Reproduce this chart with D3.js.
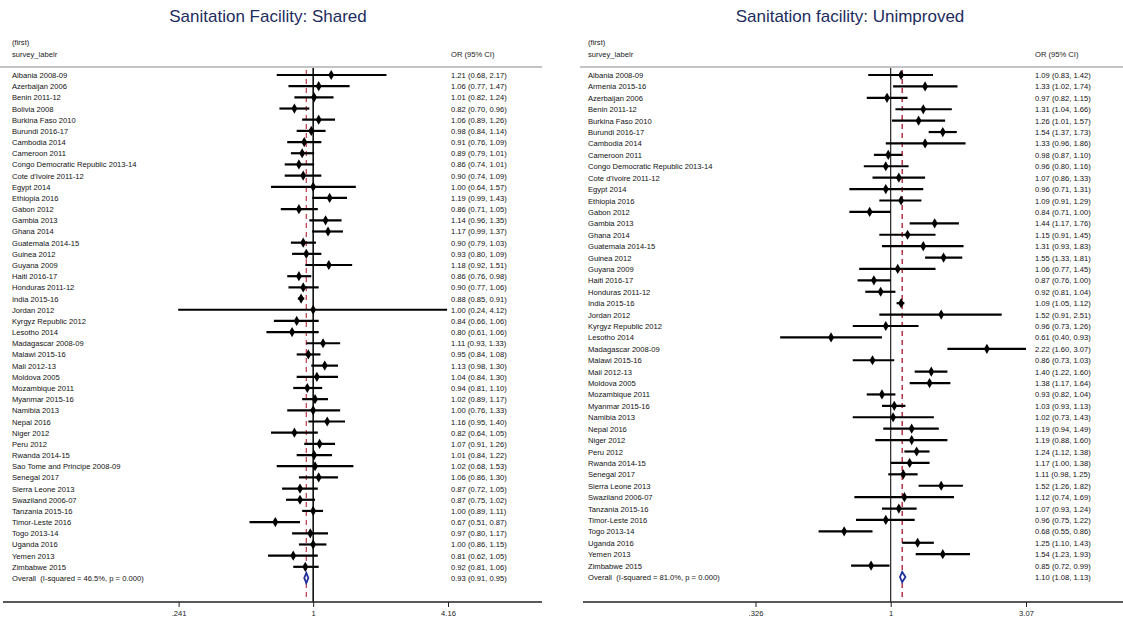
<!DOCTYPE html>
<html>
<head>
<meta charset="utf-8">
<script src="https://cdn.jsdelivr.net/npm/d3@7"></script>
<style>
  body { margin: 0; background: #fff; }
  svg { display: block; font-family: "Liberation Sans", Arial, sans-serif; }
</style>
</head>
<body>
<div id="chart"></div>
<script>
// left panel: shared sanitation facility
let sharedLabels = ["Albania 2008-09","Azerbaijan 2006","Benin 2011-12","Bolivia 2008","Burkina Faso 2010","Burundi 2016-17","Cambodia 2014","Cameroon 2011","Congo Democratic Republic 2013-14","Cote d'Ivoire 2011-12","Egypt 2014","Ethiopia 2016","Gabon 2012","Gambia 2013","Ghana 2014","Guatemala 2014-15","Guinea 2012","Guyana 2009","Haiti 2016-17","Honduras 2011-12","India 2015-16","Jordan 2012","Kyrgyz Republic 2012","Lesotho 2014","Madagascar 2008-09","Malawi 2015-16","Mali 2012-13","Moldova 2005","Mozambique 2011","Myanmar 2015-16","Namibia 2013","Nepal 2016","Niger 2012","Peru 2012","Rwanda 2014-15","Sao Tome and Principe 2008-09","Senegal 2017","Sierra Leone 2013","Swaziland 2006-07","Tanzania 2015-16","Timor-Leste 2016","Togo 2013-14","Uganda 2016","Yemen 2013","Zimbabwe 2015"]
let sharedOR    = [1.21,1.06,1.01,0.82,1.06,0.98,0.91,0.89,0.86,0.90,1.00,1.19,0.86,1.14,1.17,0.90,0.93,1.18,0.86,0.90,0.88,1.00,0.84,0.80,1.11,0.95,1.13,1.04,0.94,1.02,1.00,1.16,0.82,1.07,1.01,1.02,1.06,0.87,0.87,1.00,0.67,0.97,1.00,0.81,0.92]
let sharedLower = [0.68,0.77,0.82,0.70,0.89,0.84,0.76,0.79,0.74,0.74,0.64,0.99,0.71,0.96,0.99,0.79,0.80,0.92,0.76,0.77,0.85,0.24,0.66,0.61,0.93,0.84,0.98,0.84,0.81,0.89,0.76,0.95,0.64,0.91,0.84,0.68,0.86,0.72,0.75,0.89,0.51,0.80,0.86,0.62,0.81]
let sharedUpper = [2.17,1.47,1.24,0.96,1.26,1.14,1.09,1.01,1.01,1.09,1.57,1.43,1.05,1.35,1.37,1.03,1.09,1.51,0.98,1.06,0.91,4.12,1.06,1.06,1.33,1.08,1.30,1.30,1.10,1.17,1.33,1.40,1.05,1.26,1.22,1.53,1.30,1.05,1.02,1.11,0.87,1.17,1.15,1.05,1.06]
let sharedOverall = [0.93, 0.91, 0.95]
let sharedOverallLabel = "Overall  (I-squared = 46.5%, p = 0.000)"
let sharedTicks = [0.241, 1, 4.16]
let sharedTickLabels = [".241", "1", "4.16"]

// right panel: unimproved sanitation facility
let unimprovedLabels = ["Albania 2008-09","Armenia 2015-16","Azerbaijan 2006","Benin 2011-12","Burkina Faso 2010","Burundi 2016-17","Cambodia 2014","Cameroon 2011","Congo Democratic Republic 2013-14","Cote d'Ivoire 2011-12","Egypt 2014","Ethiopia 2016","Gabon 2012","Gambia 2013","Ghana 2014","Guatemala 2014-15","Guinea 2012","Guyana 2009","Haiti 2016-17","Honduras 2011-12","India 2015-16","Jordan 2012","Kyrgyz Republic 2012","Lesotho 2014","Madagascar 2008-09","Malawi 2015-16","Mali 2012-13","Moldova 2005","Mozambique 2011","Myanmar 2015-16","Namibia 2013","Nepal 2016","Niger 2012","Peru 2012","Rwanda 2014-15","Senegal 2017","Sierra Leone 2013","Swaziland 2006-07","Tanzania 2015-16","Timor-Leste 2016","Togo 2013-14","Uganda 2016","Yemen 2013","Zimbabwe 2015"]
let unimprovedOR    = [1.09,1.33,0.97,1.31,1.26,1.54,1.33,0.98,0.96,1.07,0.96,1.09,0.84,1.44,1.15,1.31,1.55,1.06,0.87,0.92,1.09,1.52,0.96,0.61,2.22,0.86,1.40,1.38,0.93,1.03,1.02,1.19,1.19,1.24,1.17,1.11,1.52,1.12,1.07,0.96,0.68,1.25,1.54,0.85]
let unimprovedLower = [0.83,1.02,0.82,1.04,1.01,1.37,0.96,0.87,0.80,0.86,0.71,0.91,0.71,1.17,0.91,0.93,1.33,0.77,0.76,0.81,1.05,0.91,0.73,0.40,1.60,0.73,1.22,1.17,0.82,0.93,0.73,0.94,0.88,1.12,1.00,0.98,1.26,0.74,0.93,0.75,0.55,1.10,1.23,0.72]
let unimprovedUpper = [1.42,1.74,1.15,1.66,1.57,1.73,1.86,1.10,1.16,1.33,1.31,1.29,1.00,1.76,1.45,1.83,1.81,1.45,1.00,1.04,1.12,2.51,1.26,0.93,3.07,1.03,1.60,1.64,1.04,1.13,1.43,1.49,1.60,1.38,1.38,1.25,1.82,1.69,1.24,1.22,0.86,1.43,1.93,0.99]
let unimprovedOverall = [1.10, 1.08, 1.13]
let unimprovedOverallLabel = "Overall  (I-squared = 81.0%, p = 0.000)"
let unimprovedTicks = [0.326, 1, 3.07]
let unimprovedTickLabels = [".326", "1", "3.07"]

let width = 1123, height = 623
let svg = d3.select("#chart").append("svg").attr("width", width).attr("height", height)

drawPanel({
    title: "Sanitation Facility: Shared", titleX: 268,
    labels: sharedLabels, or: sharedOR, lower: sharedLower, upper: sharedUpper,
    overall: sharedOverall, overallLabel: sharedOverallLabel,
    ticks: sharedTicks, tickLabels: sharedTickLabels,
    left: 0, right: 542, labelX: 12, valueX: 451,
    range: [178.6, 448], rowEnd: 578,
    refWidth: 1.6, dashColor: "#c24655"
})

drawPanel({
    title: "Sanitation facility: Unimproved", titleX: 850,
    labels: unimprovedLabels, or: unimprovedOR, lower: unimprovedLower, upper: unimprovedUpper,
    overall: unimprovedOverall, overallLabel: unimprovedOverallLabel,
    ticks: unimprovedTicks, tickLabels: unimprovedTickLabels,
    left: 580, right: 1123, labelX: 588, valueX: 1035,
    range: [755.5, 1026], rowEnd: 577,
    refWidth: 1.1, dashColor: "#a8142c"
})

function fmt(v){ return v.toFixed(2) }

function drawPanel(p){
    let g = svg.append("g")
    let n = p.labels.length + 1   // studies + overall row
    let x = d3.scaleLog().domain([p.ticks[0], p.ticks[2]]).range(p.range)
    let y = d3.scaleLinear().domain([0, n - 1]).range([75, p.rowEnd])
    let topY = 67, axisY = 602
    let fs = 7.6

    //タイトル
    g.append("text").attr("x", p.titleX).attr("y", 22)
        .attr("text-anchor", "middle").attr("font-size", 17)
        .attr("fill", "#1d2c5e").text(p.title)

    // column headers
    g.append("text").attr("x", p.labelX).attr("y", 45).attr("font-size", fs).attr("fill", "#222").text("(first)")
    g.append("text").attr("x", p.labelX).attr("y", 57).attr("font-size", fs).attr("fill", "#222").text("survey_labelr")
    g.append("text").attr("x", p.valueX).attr("y", 57).attr("font-size", fs).attr("fill", "#222").text("OR (95% CI)")

    // header separator
    g.append("line").attr("x1", p.left).attr("x2", p.right).attr("y1", topY).attr("y2", topY)
        .attr("stroke", "#c4c4c4").attr("stroke-width", 2)

    // no-effect line at 1
    g.append("line").attr("x1", x(1)).attr("x2", x(1)).attr("y1", topY + 1).attr("y2", axisY)
        .attr("stroke", "#111").attr("stroke-width", p.refWidth)

    // overall estimate line
    g.append("line").attr("x1", x(p.overall[0])).attr("x2", x(p.overall[0]))
        .attr("y1", topY + 3).attr("y2", axisY - 2)
        .attr("stroke", p.dashColor).attr("stroke-width", 1.3).attr("stroke-dasharray", "5,4")

    let rows = p.labels.map((d, i) => ({ label: d, or: p.or[i], lo: p.lower[i], hi: p.upper[i], i: i }))

    // confidence intervals
    g.selectAll(".ci").data(rows).enter().append("line").attr("class", "ci")
        .attr("x1", d => x(d.lo)).attr("x2", d => x(d.hi))
        .attr("y1", d => y(d.i)).attr("y2", d => y(d.i))
        .attr("stroke", "#000").attr("stroke-width", 2.2)

    // point estimates
    g.selectAll(".pt").data(rows).enter().append("path").attr("class", "pt")
        .attr("d", d3.symbol(d3.symbolDiamond, 30))
        .attr("transform", d => `translate(${x(d.or)},${y(d.i)})`)
        .attr("fill", "#000")

    // row text
    g.selectAll(".lab").data(rows).enter().append("text").attr("class", "lab")
        .attr("x", p.labelX).attr("y", d => y(d.i) + 3).attr("font-size", fs).attr("fill", "#111")
        .text(d => d.label)
    g.selectAll(".val").data(rows).enter().append("text").attr("class", "val")
        .attr("x", p.valueX).attr("y", d => y(d.i) + 3).attr("font-size", fs).attr("fill", "#111")
        .text(d => `${fmt(d.or)} (${fmt(d.lo)}, ${fmt(d.hi)})`)

    // overall diamond
    let oy = y(n - 1)
    let o = p.overall
    let dPts = [[x(o[1]), oy], [x(o[0]), oy - 5], [x(o[2]), oy], [x(o[0]), oy + 5]]
    g.append("path").attr("d", "M" + dPts.join("L") + "Z")
        .attr("fill", "#fff").attr("stroke", "#1f2f9a").attr("stroke-width", 1.8)
    g.append("text").attr("x", p.labelX).attr("y", oy + 3).attr("font-size", fs).attr("fill", "#111")
        .style("white-space", "pre").text(p.overallLabel)
    g.append("text").attr("x", p.valueX).attr("y", oy + 3).attr("font-size", fs).attr("fill", "#111")
        .text(`${fmt(o[0])} (${fmt(o[1])}, ${fmt(o[2])})`)

    // x axis
    g.append("line").attr("x1", p.left + 3).attr("x2", p.right).attr("y1", axisY).attr("y2", axisY)
        .attr("stroke", "#222").attr("stroke-width", 1.4)
    let axis = d3.axisBottom(x).tickValues(p.ticks).tickSize(5).tickPadding(4)
        .tickFormat((d, i) => p.tickLabels[i])
    let ax = g.append("g").attr("transform", `translate(0,${axisY})`).call(axis)
    ax.select(".domain").remove()
    ax.selectAll("line").attr("stroke", "#222")
    ax.selectAll("text").attr("font-size", fs).attr("fill", "#222")
        .attr("font-family", "Liberation Sans, Arial, sans-serif")
}
</script>
</body>
</html>
